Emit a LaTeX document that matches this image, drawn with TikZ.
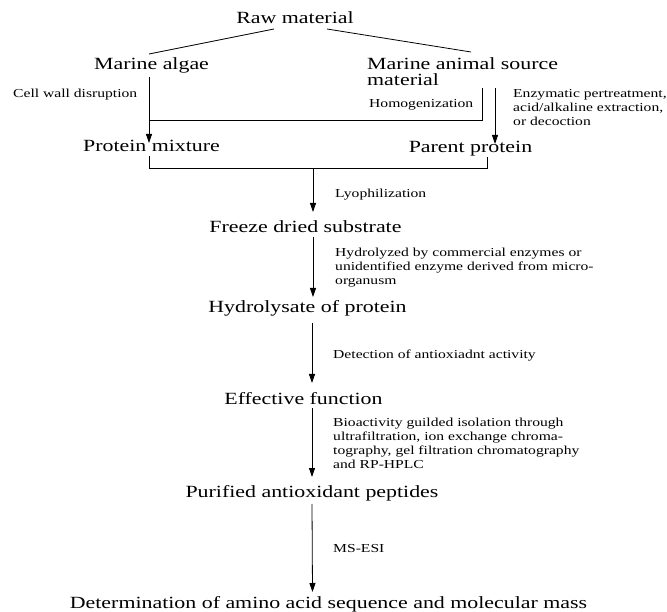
\documentclass[tikz,border=0pt]{standalone}
\usepackage{fontspec}
\setmainfont{Liberation Serif}[FakeStretch=1.28]
\usetikzlibrary{calc,arrows.meta}

\begin{document}
\begin{tikzpicture}[x=1pt, y=1pt,
  big/.style={font=\fontsize{17.1}{15}\selectfont, inner sep=0pt, anchor=base},
  small/.style={font=\fontsize{12.2}{14}\selectfont, inner sep=0pt, anchor=north west, align=left},
  line/.style={line width=0.8pt},
  arr/.style={line width=0.8pt, -{Triangle[length=9pt,width=6pt]}}]
  \useasboundingbox (0,0) rectangle (667,-612);

  % hlavni uzly
  \node[big] (raw) at (295,-23.5) {Raw material};
  \node[big] (algae) at (151.5,-69.5) {Marine algae};
  \node[big, anchor=north west, align=left, font=\fontsize{17.1}{16}\selectfont] (animal) at (367,-57.5) {Marine animal source\\material};
  \node[big] (pmix) at (151.5,-151.5) {Protein mixture};
  \node[big] (parent) at (470.5,-152.5) {Parent protein};
  \node[big] (freeze) at (305.5,-232.5) {Freeze dried substrate};
  \node[big] (hydro) at (307.5,-312.5) {Hydrolysate of protein};
  \node[big] (effect) at (303.5,-404.5) {Effective function};
  \node[big] (purif) at (312,-497.5) {Purified antioxidant peptides};
  \node[big] (determ) at (328.5,-608.5) {Determination of amino acid sequence and molecular mass};

  % popisky kroku
  \node[small] (cell) at (13,-88.8) {Cell wall disruption};
  \node[small] (homog) at (369,-98.8) {Homogenization};
  \node[small] (enzy) at (513,-88.8) {Enzymatic pertreatment,\\acid/alkaline extraction,\\or decoction};
  \node[small] (lyo) at (335,-188.8) {Lyophilization};
  \node[small] (hydrolyzed) at (335,-247.8) {Hydrolyzed by commercial enzymes or\\unidentified enzyme derived from micro-\\organusm};
  \node[small] (detect) at (333,-349.8) {Detection of antioxiadnt activity};
  \node[small] (bio) at (333,-417.8) {Bioactivity guilded isolation through\\ultrafiltration, ion exchange chroma-\\tography, gel filtration chromatography\\and RP-HPLC};
  \node[small] (msesi) at (333,-543.8) {MS-ESI};

  % vetveni nahore
  \draw[line] ($(raw.base)+(-21,-5.5)$) -- ($(algae.base)+(-2.5,15.5)$);
  \draw[line] ($(raw.base)+(32,-5.5)$) -- ($(animal.north west)+(104,5.5)$);
  \draw[arr] ($(algae.base)+(-2.5,-7.5)$) -- ($(pmix.base)+(-2.5,8.5)$);
  \draw[line] ($(animal.north west)+(115,-30.5)$) |- ($(pmix.base)+(-2.5,31.5)$);
  \draw[arr] ($(animal.north west)+(128,-30.5)$) -- ($(parent.base)+(24.5,8.5)$);

  % spojeni obou vetvi
  \draw[line] ($(pmix.base)+(-2.5,-4.5)$) |- ($(parent.base)+(16.5,-15.5)$) -- ($(parent.base)+(16.5,-4.5)$);
  \coordinate (join) at (313,-168);

  % hlavni osa
  \draw[arr] (join) -- ($(freeze.base)+(7.5,20.5)$);
  \draw[arr] ($(freeze.base)+(7.5,-4.5)$) -- ($(hydro.base)+(5.5,15.5)$);
  \draw[arr] ($(hydro.base)+(4.5,-10.5)$) -- ($(effect.base)+(8.5,21.5)$);
  \draw[arr] ($(effect.base)+(8.5,-3.5)$) -- ($(purif.base)+(0,20.5)$);
  \draw[arr] ($(purif.base)+(0,-6.5)$) -- ($(determ.base)+(-16,16.5)$);
\end{tikzpicture}
\end{document}
